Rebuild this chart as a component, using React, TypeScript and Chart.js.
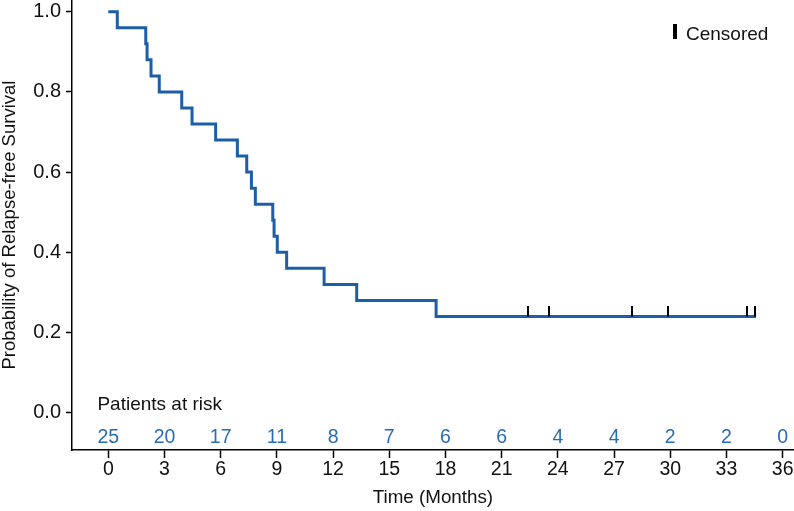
import React, { useEffect, useRef } from 'react';
import { Chart, registerables } from 'chart.js';

Chart.register(...registerables);

// Kaplan-Meier step curve (time in months, survival probability)
const eventTimes = [0, 0.48, 2.0, 2.07, 2.28, 2.72, 3.92, 4.47, 5.73, 6.89, 7.39, 7.64, 7.85, 8.78, 8.85, 9.02, 9.52, 11.52, 13.26, 17.5, 34.58];
const survival = [1.0, 0.96, 0.92, 0.88, 0.84, 0.8, 0.76, 0.72, 0.68, 0.64, 0.6, 0.56, 0.52, 0.48, 0.44, 0.4, 0.36, 0.32, 0.28, 0.24, 0.24];

// Censored observations
const censorTimes = [22.42, 23.51, 27.94, 29.86, 34.08, 34.53];
const censorSurvival = [0.24, 0.24, 0.24, 0.24, 0.24, 0.24];

// Patients at risk
const riskTimes = [0, 3, 6, 9, 12, 15, 18, 21, 24, 27, 30, 33, 36];
const riskCounts = [25, 20, 17, 11, 8, 7, 6, 6, 4, 4, 2, 2, 0];

// Axis ticks
const xTicks = [0, 3, 6, 9, 12, 15, 18, 21, 24, 27, 30, 33, 36];
const yTicks = [0, 0.2, 0.4, 0.6, 0.8, 1.0];

const FONT = "'Liberation Sans', Arial, Helvetica, sans-serif";
const LINE_COLOR = '#1c5ea7';
const RISK_COLOR = '#2a6cb1';

export default function App() {
  const ref = useRef<HTMLCanvasElement | null>(null);

  useEffect(() => {
    document.body.style.margin = '0';
    const canvas = ref.current;
    if (!canvas) return;

    const mark = document.createElement('canvas');
    mark.width = 2;
    mark.height = 20;
    const mctx = mark.getContext('2d');
    if (mctx) {
      mctx.fillStyle = '#000';
      mctx.fillRect(0, 0, 2, 10);
    }

    const overlay = {
      id: 'kmOverlay',
      afterDraw(chart: any) {
        const { ctx, scales } = chart;
        const xs = scales.x;
        const ys = scales.y;
        ctx.save();
        // Patients at risk label
        ctx.font = `19px ${FONT}`;
        ctx.fillStyle = '#111';
        ctx.textAlign = 'left';
        ctx.textBaseline = 'middle';
        ctx.fillText('Patients at risk', xs.getPixelForValue(-0.58), ys.getPixelForValue(0.02));
        // risk counts
        ctx.font = `19.5px ${FONT}`;
        ctx.fillStyle = RISK_COLOR;
        ctx.textAlign = 'center';
        riskTimes.forEach((t, i) => {
          ctx.fillText(String(riskCounts[i]), xs.getPixelForValue(t), ys.getPixelForValue(-0.063));
        });
        // legend
        ctx.fillStyle = '#000';
        ctx.fillRect(673, 24, 4, 15);
        ctx.font = `19px ${FONT}`;
        ctx.fillStyle = '#111';
        ctx.textAlign = 'left';
        ctx.textBaseline = 'alphabetic';
        ctx.fillText('Censored', 686, 39.5);
        ctx.restore();
      },
    };

    const chart = new Chart(canvas, {
      type: 'line',
      data: {
        datasets: [
          {
            label: 'Censored',
            data: censorTimes.map((t, i) => ({ x: t, y: censorSurvival[i] })),
            showLine: false,
            pointStyle: mark as any,
            pointRadius: 0.1,
            pointHoverRadius: 0.1,
            borderWidth: 0,
            borderColor: '#000',
            backgroundColor: '#000',
            order: 1,
          },
          {
            label: 'Relapse-free survival',
            data: eventTimes.map((t, i) => ({ x: t, y: survival[i] })),
            stepped: true,
            borderColor: LINE_COLOR,
            borderWidth: 3,
            pointRadius: 0,
            pointHoverRadius: 0,
            fill: false,
            order: 2,
          },
        ],
      },
      options: {
        animation: false,
        responsive: true,
        maintainAspectRatio: false,
        layout: { padding: 0 },
        plugins: {
          legend: { display: false },
          tooltip: { enabled: false },
        },
        scales: {
          x: {
            type: 'linear',
            min: -1.938,
            max: 36.6,
            afterBuildTicks: (s: any) => {
              s.ticks = xTicks.map((v) => ({ value: v }));
            },
            afterFit: (s: any) => {
              s.height = 61;
              s.paddingLeft = 0;
              s.paddingRight = 0;
            },
            grid: {
              drawOnChartArea: false,
              drawTicks: true,
              tickLength: 8,
              tickColor: '#000',
              tickWidth: 1.5,
            },
            border: { display: true, color: '#000', width: 1.5 },
            ticks: {
              autoSkip: false,
              maxRotation: 0,
              padding: 0,
              color: '#111',
              font: { family: FONT, size: 19.5 },
              callback: (v: any) => String(v),
            },
            title: {
              display: true,
              text: 'Time (Months)',
              color: '#111',
              font: { family: FONT, size: 18.8, lineHeight: 1.0 },
              padding: { top: 0, bottom: 4 },
            },
          },
          y: {
            type: 'linear',
            min: -0.093,
            max: 1.029,
            afterBuildTicks: (s: any) => {
              s.ticks = yTicks.map((v) => ({ value: v }));
            },
            afterFit: (s: any) => {
              s.width = 72;
              s.paddingTop = 0;
              s.paddingBottom = 0;
            },
            grid: {
              drawOnChartArea: false,
              drawTicks: true,
              tickLength: 6,
              tickColor: '#000',
              tickWidth: 1.5,
            },
            border: { display: true, color: '#000', width: 1.5 },
            ticks: {
              padding: 5,
              color: '#111',
              font: { family: FONT, size: 20 },
              callback: (v: any) => Number(v).toFixed(1),
            },
            title: {
              display: true,
              text: 'Probability of Relapse-free Survival',
              color: '#111',
              font: { family: FONT, size: 18.5, lineHeight: 1.0 },
              padding: { top: 1, bottom: 0 },
            },
          },
        },
      },
      plugins: [overlay],
    });

    return () => {
      chart.destroy();
    };
  }, []);

  return (
    <div style={{ width: 794, height: 511, position: 'relative' }}>
      <canvas ref={ref} />
    </div>
  );
}
